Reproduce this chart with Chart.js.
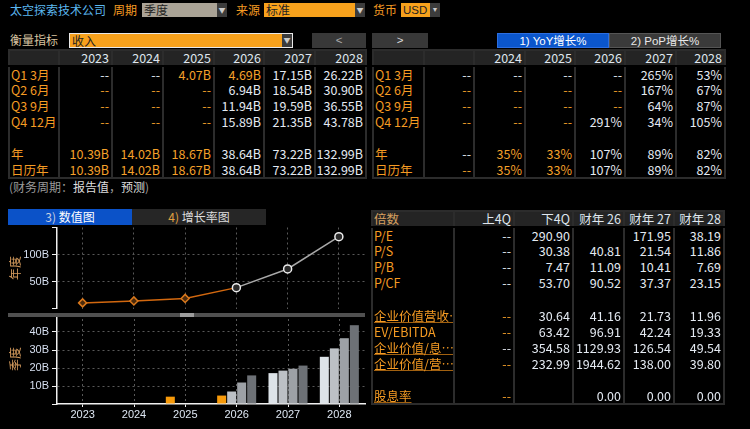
<!DOCTYPE html>
<html>
<head>
<meta charset="utf-8">
<script src="https://cdn.jsdelivr.net/npm/chart.js@4.4.1/dist/chart.umd.min.js"></script>
<style>
body{margin:0;background:#000;width:750px;height:429px;overflow:hidden;position:relative;
  font-family:"Liberation Sans Narrow","Arial Narrow","Noto Sans CJK SC",sans-serif;font-size:12.5px;color:#e4eaf2}
.abs{position:absolute;white-space:nowrap}
.lbl{color:#f59b23;font-family:"Noto Sans CJK SC",sans-serif;font-size:12px;line-height:14px}
.box{position:absolute;height:14px;line-height:14px;font-family:"Noto Sans CJK SC",sans-serif;font-size:12px;color:#222;padding-left:2px;box-sizing:border-box}
.arrow{position:absolute;top:0;right:0;width:10px;height:14px;background:#3c3c3c;color:#ccc;font-size:7px;text-align:center;line-height:14px}
.btn{position:absolute;height:15px;line-height:15px;text-align:center;font-size:11.5px;box-sizing:border-box;font-family:"Liberation Sans","Noto Sans CJK SC",sans-serif}
table{position:absolute;border-collapse:collapse;table-layout:fixed;border:2px solid #2c2c2c}
td{padding:0 2px 0 0;text-align:right;white-space:nowrap;overflow:hidden;border-left:2px solid #2c2c2c;border-right:2px solid #2c2c2c;line-height:14px}
td.rl{text-align:left;padding-left:1px;color:#f59b23;font-family:"Liberation Sans Narrow","Noto Sans CJK SC",sans-serif}
td.o{color:#f5a02a}
td.u span{text-decoration:underline;text-decoration-color:#a06010}
tr.head td{background:#242424;color:#dfe6ee;border-bottom:2px solid #000}
tr.head td.rl{color:#d8a060}
.chartbox{position:absolute}
</style>
</head>
<body>

<!-- top selector row -->
<div class="abs" style="left:10px;top:3px;color:#5cb8f0;font-family:'Noto Sans CJK SC';font-size:12px;line-height:14px">太空探索技术公司</div>
<div class="abs lbl" style="left:113px;top:3px">周期</div>
<div class="box" style="left:142px;top:3px;width:85px;background:#aaa396">季度<div class="arrow">▼</div></div>
<div class="abs lbl" style="left:236px;top:3px">来源</div>
<div class="box" style="left:264px;top:3px;width:101px;background:#f7a11c">标准<div class="arrow">▼</div></div>
<div class="abs lbl" style="left:373px;top:3px">货币</div>
<div class="box" style="left:401px;top:3px;width:39px;background:#f7a11c;font-family:'Liberation Sans';font-size:11.5px">USD<div class="arrow">▼</div></div>

<!-- metric row -->
<div class="abs" style="left:10px;top:33px;color:#d8c4a0;font-family:'Noto Sans CJK SC';font-size:12px;line-height:14px">衡量指标</div>
<div class="box" style="left:69px;top:33px;width:224px;height:15px;background:#f7a11c;border:1px solid #e8e8e8">收入<div class="arrow" style="height:13px;line-height:13px">▼</div></div>
<div class="btn" style="left:312px;top:33px;width:54px;background:#383838;color:#aaa">&lt;</div>
<div class="btn" style="left:372px;top:33px;width:56px;background:#383838;color:#ddd">&gt;</div>
<div class="btn" style="left:497px;top:33px;width:112px;background:#0b56cc;color:#fff;border:1px solid #2c6ee0">1) YoY增长%</div>
<div class="btn" style="left:609px;top:33px;width:112px;background:#3a3a3a;color:#e8e8e8;border:1px solid #555">2) PoP增长%</div>

<div class="abs" style="left:9px;top:178px;font-family:'Noto Sans CJK SC';font-size:12px;color:#9a9a9a">(财务周期：<span style="color:#ddd">报告值</span>，<span style="color:#ddd">预测</span>)</div>

<!-- chart tabs -->
<div class="btn" style="left:8px;top:209px;width:124px;height:16px;background:#0b52c8;color:#fff;font-family:'Noto Sans CJK SC';font-size:12px"><span style="color:#c8d0e0">3)</span> 数值图</div>
<div class="btn" style="left:132px;top:209px;width:134px;height:16px;background:#262626;color:#ddd;font-family:'Noto Sans CJK SC';font-size:12px"><span style="color:#e0a040">4)</span> 增长率图</div>

<div class="chartbox" style="left:0;top:222px;width:370px;height:92px"><canvas id="annualChart"></canvas></div>
<div class="chartbox" style="left:0;top:312px;width:370px;height:108px"><canvas id="quarterChart"></canvas></div>
<div class="abs" style="left:8px;top:313px;width:357px;height:4px;background:#505050"></div>
<div class="abs" style="left:180px;top:313px;width:14px;height:4px;background:#9c9c9c"></div>

<script>
// ---- chart data (revenue, billions USD) ----
const years = ['2023', '2024', '2025', '2026', '2027', '2028'];
const annualRevenue = [10.39, 14.02, 18.67, 38.64, 73.22, 132.99];
const reportedYears = 3; // 2023-2025 are reported, the rest estimates
const q1Revenue = [null, null, 4.07, 4.69, 17.15, 26.22];
const q2Revenue = [null, null, null, 6.94, 18.54, 30.90];
const q3Revenue = [null, null, null, 11.94, 19.59, 36.55];
const q4Revenue = [null, null, null, 15.89, 21.35, 43.78];
const q1Reported = [false, false, true, true, false, false];
const annualTicks = [50, 100];
const quarterTicks = [10, 20, 30, 40];

// ---- table text ('^' = reported value, shown orange) ----
const revenueHead = ['', '2023', '2024', '2025', '2026', '2027', '2028'];
const revenueRows = [
  ['Q1 3月', '--', '--', '^4.07B', '^4.69B', '17.15B', '26.22B'],
  ['Q2 6月', '^--', '^--', '^--', '6.94B', '18.54B', '30.90B'],
  ['Q3 9月', '^--', '^--', '^--', '11.94B', '19.59B', '36.55B'],
  ['Q4 12月', '^--', '^--', '^--', '15.89B', '21.35B', '43.78B'],
  ['', '', '', '', '', '', ''],
  ['年', '^10.39B', '^14.02B', '^18.67B', '38.64B', '73.22B', '132.99B'],
  ['日历年', '^10.39B', '^14.02B', '^18.67B', '38.64B', '73.22B', '132.99B']
];
const growthHead = ['', '', '2024', '2025', '2026', '2027', '2028'];
const growthRows = [
  ['Q1 3月', '--', '--', '--', '--', '265%', '53%'],
  ['Q2 6月', '^--', '^--', '^--', '^--', '167%', '67%'],
  ['Q3 9月', '^--', '^--', '^--', '^--', '64%', '87%'],
  ['Q4 12月', '^--', '^--', '^--', '291%', '34%', '105%'],
  ['', '', '', '', '', '', ''],
  ['年', '--', '^35%', '^33%', '107%', '89%', '82%'],
  ['日历年', '^--', '^35%', '^33%', '107%', '89%', '82%']
];
const multiplesHead = ['倍数', '上4Q', '下4Q', '财年 26', '财年 27', '财年 28'];
const multiplesRows = [
  ['P/E', '--', '290.90', '', '171.95', '38.19'],
  ['P/S', '--', '30.38', '40.81', '21.54', '11.86'],
  ['P/B', '--', '7.47', '11.09', '10.41', '7.69'],
  ['P/CF', '--', '53.70', '90.52', '37.37', '23.15'],
  ['', '', '', '', '', ''],
  ['_企业价值营收…', '^--', '30.64', '41.16', '21.73', '11.96'],
  ['EV/EBITDA', '^--', '63.42', '96.91', '42.24', '19.33'],
  ['_企业价值/息…', '--', '354.58', '1129.93', '126.54', '49.54'],
  ['_企业价值/营…', '^--', '232.99', '1944.62', '138.00', '39.80'],
  ['', '', '', '', '', ''],
  ['_股息率', '^--', '', '0.00', '0.00', '0.00']
];

function buildTable(left, top, widths, heights, head, rows) {
  const t = document.createElement('table');
  t.style.left = left + 'px';
  t.style.top = top + 'px';
  t.style.width = widths.reduce((a, b) => a + b, 0) + 'px';
  const cg = document.createElement('colgroup');
  widths.forEach(w => {
    const c = document.createElement('col');
    c.style.width = w + 'px';
    cg.appendChild(c);
  });
  t.appendChild(cg);
  [head].concat(rows).forEach((row, r) => {
    const tr = document.createElement('tr');
    tr.style.height = heights[r] + 'px';
    if (r === 0) tr.className = 'head';
    row.forEach((cell, c) => {
      const td = document.createElement('td');
      let text = cell;
      if (c === 0) td.className = 'rl';
      if (text.startsWith('^')) { td.className += ' o'; text = text.slice(1); }
      if (text.startsWith('_')) {
        td.className += ' u';
        text = text.slice(1);
        td.innerHTML = '<span>' + text + '</span>';
      } else {
        td.textContent = text;
      }
      tr.appendChild(td);
    });
    t.appendChild(tr);
  });
  document.body.appendChild(t);
}

buildTable(8, 49, [50, 53, 51, 51, 50, 51, 51], [16, 16, 16, 16, 16, 16, 16, 16], revenueHead, revenueRows);
buildTable(372, 49, [51, 50, 51, 50, 50, 51, 49], [16, 16, 16, 16, 16, 16, 16, 16], growthHead, growthRows);
buildTable(371, 210, [82, 60, 59, 51, 50, 50], [15, 16, 16, 16, 16, 17, 16, 16, 16, 16, 16, 16], multiplesHead, multiplesRows);

// ---- charts ----
const tickFont = {family: '"Liberation Sans Narrow", "Liberation Sans", sans-serif', size: 11};
const titleFont = {family: '"Noto Sans CJK SC", sans-serif', size: 12};
const gridColor = '#585858';
const orange = '#d2680f';

function yAxis(max, step, labelled, title) {
  return {
    min: 0, max: max,
    afterFit: axis => {
      axis.width = 57;
      // no extra room for half-labels: plot area is set by the layout padding
      axis.paddingTop = 0;
      axis.paddingBottom = 0;
    },
    ticks: {
      stepSize: step, color: '#d6dff0', font: tickFont, padding: 3,
      callback: v => labelled.includes(v) ? v + 'B' : ''
    },
    grid: {
      color: ctx => ctx.tick && labelled.includes(ctx.tick.value) ? gridColor : 'transparent',
      tickColor: '#f0f0f0', tickLength: 5, drawTicks: true
    },
    border: {display: true, color: '#f0f0f0', width: 1.5, dash: [2, 3]},
    title: {display: true, text: title, color: '#d49a5c', font: titleFont, padding: {top: 8, bottom: 0}}
  };
}

new Chart(document.getElementById('annualChart'), {
  type: 'line',
  data: {
    labels: years,
    datasets: [{
      data: annualRevenue,
      borderWidth: 1.5,
      borderColor: '#a8a8a8',
      segment: {
        borderColor: ctx => ctx.p0DataIndex < reportedYears ? orange : '#a8a8a8'
      },
      pointStyle: ctx => ctx.dataIndex < reportedYears ? 'rectRot' : 'circle',
      pointRadius: 4,
      pointBorderWidth: 1.5,
      pointBorderColor: ctx => ctx.dataIndex < reportedYears ? '#d9781c' : '#ececec',
      pointBackgroundColor: ctx => ctx.dataIndex < reportedYears ? '#4a2a0c' : '#2a2a2a',
      tension: 0
    }]
  },
  options: {
    responsive: true, maintainAspectRatio: false, animation: false,
    layout: {padding: {top: 2, right: 5, bottom: 3, left: 0}},
    plugins: {legend: {display: false}, tooltip: {enabled: false}},
    scales: {
      x: {
        offset: true,
        afterFit: axis => { axis.height = 0; },
        ticks: {display: false},
        grid: {color: gridColor, offset: false, drawTicks: false},
        border: {display: false, dash: [2, 3]}
      },
      y: yAxis(150, 25, annualTicks, '年度')
    }
  }
});

const q1Colors = q1Reported.map(r => r ? '#f79a0a' : '#dde3e8');

new Chart(document.getElementById('quarterChart'), {
  type: 'bar',
  data: {
    labels: years,
    datasets: [
      {data: q1Revenue, backgroundColor: q1Colors},
      {data: q2Revenue, backgroundColor: '#bcc0c5'},
      {data: q3Revenue, backgroundColor: '#9da1a6'},
      {data: q4Revenue, backgroundColor: '#6d7176'}
    ]
  },
  options: {
    responsive: true, maintainAspectRatio: false, animation: false,
    layout: {padding: {top: 2, right: 5, bottom: 0, left: 0}},
    plugins: {legend: {display: false}, tooltip: {enabled: false}},
    datasets: {bar: {categoryPercentage: 0.78, barPercentage: 0.9}},
    scales: {
      x: {
        afterFit: axis => { axis.height = 16; },
        ticks: {color: '#dde6f2', font: tickFont, padding: 1, maxRotation: 0},
        grid: {color: gridColor, offset: false, tickColor: '#f0f0f0', tickLength: 3},
        border: {display: true, color: '#f0f0f0', width: 1.5, dash: [2, 3]}
      },
      y: yAxis(50, 10, quarterTicks, '季度')
    }
  }
});
</script>
</body>
</html>
